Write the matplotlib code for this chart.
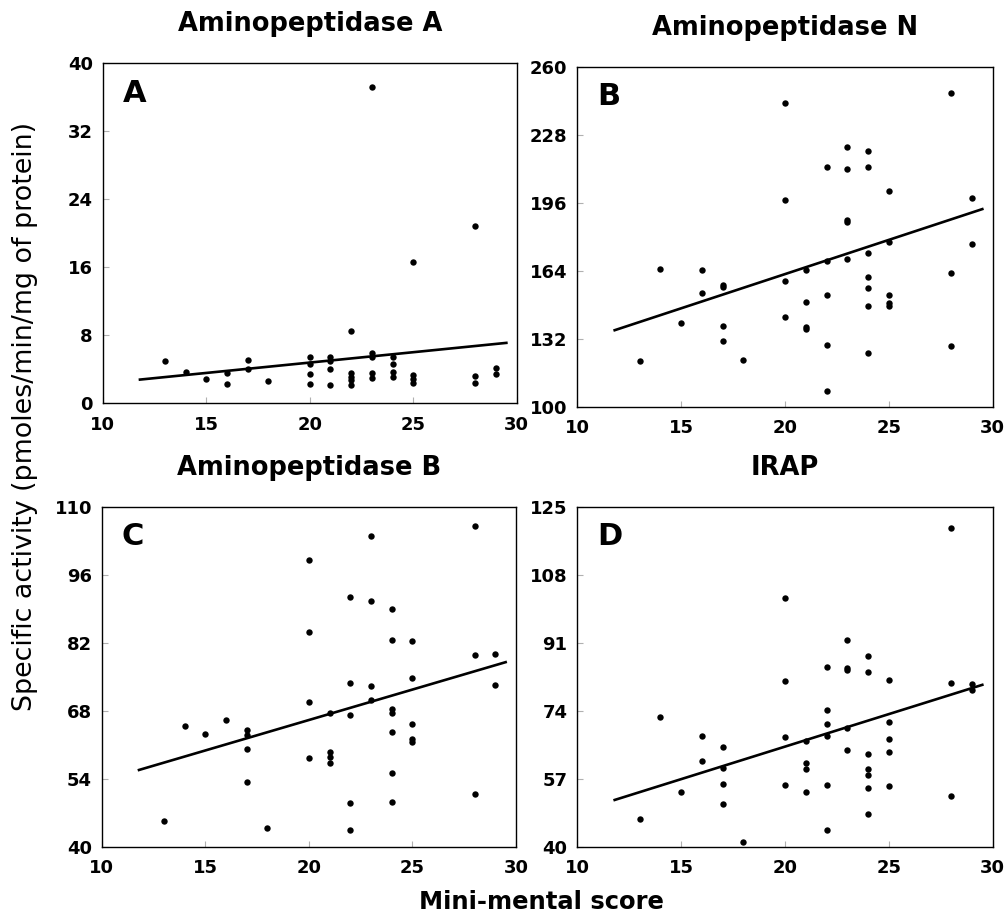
import numpy as np
import matplotlib
matplotlib.use('Agg')
import matplotlib.pyplot as plt

plt.rcParams['font.family'] = ['DejaVu Sans']

# mini-mental score (x) and specific activity (y) for each enzyme
A_x = [13, 14, 15, 16, 16, 17, 17, 18, 20, 20, 20, 20, 21, 21, 21, 21, 22, 22, 22, 22, 22,
       23, 23, 23, 23, 23, 24, 24, 24, 24, 25, 25, 25, 25, 28, 28, 28, 29, 29]
A_y = [5.0, 3.65, 2.9, 3.6, 2.25, 5.1, 4.0, 2.6, 5.5, 4.6, 3.4, 2.3, 5.5, 5.0, 4.0, 2.1,
       8.55, 3.6, 3.1, 2.7, 2.1, 37.2, 5.9, 5.5, 3.6, 3.0, 5.4, 4.6, 3.65, 3.1,
       16.6, 3.3, 2.9, 2.35, 20.9, 3.25, 2.4, 4.1, 3.5]

B_x = [13, 14, 15, 16, 16, 17, 17, 17, 17, 18, 20, 20, 20, 20, 21, 21, 21, 21, 22, 22, 22, 22, 22,
       23, 23, 23, 23, 23, 24, 24, 24, 24, 24, 24, 24, 25, 25, 25, 25, 25, 28, 28, 28, 29, 29]
B_y = [121.3, 164.8, 139.5, 164.3, 153.6, 157.2, 156.2, 138.1, 131.1, 122.1,
       242.7, 197.1, 159.0, 142.4, 164.5, 149.3, 137.6, 136.4,
       212.6, 168.7, 152.5, 129.0, 107.4, 222.4, 212.0, 188.0, 186.9, 169.6,
       220.3, 212.8, 172.5, 161.2, 156.0, 147.2, 125.1, 201.6, 177.6, 152.7, 148.8, 147.2,
       247.5, 163.1, 128.4, 198.0, 176.5]

C_x = [13, 14, 15, 16, 17, 17, 17, 17, 18, 20, 20, 20, 20, 21, 21, 21, 21, 22, 22, 22, 22, 22,
       23, 23, 23, 23, 24, 24, 24, 24, 24, 24, 24, 25, 25, 25, 25, 25, 28, 28, 28, 29, 29]
C_y = [45.3, 64.8, 63.3, 66.0, 64.0, 63.0, 60.1, 53.4, 43.9, 99.0, 84.3, 69.8, 58.2,
       67.5, 59.5, 58.4, 57.2, 91.5, 73.8, 67.1, 49.1, 43.4, 104.0, 90.6, 73.1, 70.2,
       89.0, 82.5, 68.4, 67.5, 63.7, 55.2, 49.2, 82.4, 74.8, 65.2, 62.2, 61.6,
       106.0, 79.5, 50.8, 79.6, 73.3]

D_x = [13, 14, 15, 16, 16, 17, 17, 17, 17, 18, 20, 20, 20, 20, 21, 21, 21, 21,
       22, 22, 22, 22, 22, 22, 23, 23, 23, 23, 23, 24, 24, 24, 24, 24, 24, 24,
       25, 25, 25, 25, 25, 28, 28, 28, 29, 29]
D_y = [46.9, 72.5, 53.6, 67.8, 61.5, 65.0, 59.6, 55.6, 50.6, 41.2, 102.2, 81.4, 67.5, 55.5,
       66.5, 60.9, 59.4, 53.7, 84.9, 74.2, 70.7, 67.6, 55.4, 44.2,
       91.7, 84.6, 84.2, 69.6, 64.2, 87.7, 83.7, 63.3, 59.5, 57.9, 54.8, 48.2,
       81.8, 71.2, 67.0, 63.7, 55.1, 119.7, 80.9, 52.6, 80.7, 79.3]

# regression lines (slope, intercept)
fit_A = (0.244, -0.09)
fit_B = (3.22, 98.0)
fit_C = (1.254, 41.0)
fit_D = (1.626, 32.5)
fit_range = [11.8, 29.5]

titles = ['Aminopeptidase A', 'Aminopeptidase N', 'Aminopeptidase B', 'IRAP']
letters = ['A', 'B', 'C', 'D']
y_ticks = [[0, 8, 16, 24, 32, 40],
           [100, 132, 164, 196, 228, 260],
           [40, 54, 68, 82, 96, 110],
           [40, 57, 74, 91, 108, 125]]
x_ticks = [10, 15, 20, 25, 30]

W, H = 1006, 919
fig = plt.figure(figsize=(W / 100, H / 100), dpi=100)

# axes boxes in pixels: left, top, right, bottom
boxes = [(102.7, 63.3, 516.7, 403.3),
         (577.3, 66.7, 992.7, 406.7),
         (101.7, 506.7, 516.0, 846.7),
         (577.3, 506.7, 992.7, 846.7)]

data = [(A_x, A_y, fit_A), (B_x, B_y, fit_B), (C_x, C_y, fit_C), (D_x, D_y, fit_D)]

for i, (xs, ys, fit) in enumerate(data):
    l, t, r, b = boxes[i]
    ax = fig.add_axes([l / W, 1 - b / H, (r - l) / W, (b - t) / H])
    ax.plot(xs, ys, 'o', color='black', markersize=4.6, markeredgewidth=0)
    fx = np.array(fit_range)
    ax.plot(fx, fit[0] * fx + fit[1], color='black', lw=1.9)
    ax.set_xlim(10, 30)
    ax.set_ylim(y_ticks[i][0], y_ticks[i][-1])
    ax.set_xticks(x_ticks)
    ax.set_yticks(y_ticks[i])
    ax.tick_params(direction='in', length=4, width=0.8, color='#b0b0b0',
                   labelsize=13, pad=7)
    ax.tick_params(axis='x', pad=9)
    for lab in ax.get_xticklabels() + ax.get_yticklabels():
        lab.set_fontweight('bold')
    for sp in ax.spines.values():
        sp.set_linewidth(1.0)
        sp.set_color('black')
    ax.set_title(titles[i], fontsize=18.5, fontweight='bold', pad=23)
    ax.text(0.048, 0.955, letters[i], transform=ax.transAxes, ha='left', va='top',
            fontsize=22, fontweight='bold')

fig.text(25 / W, 1 - 416 / H, 'Specific activity (pmoles/min/mg of protein)',
         rotation=90, ha='center', va='center', fontsize=19.4)
fig.text(541.5 / W, 1 - 909 / H, 'Mini-mental score', ha='center', va='baseline',
         fontsize=17.5, fontweight='bold')

fig.savefig('out.png', dpi=100)
